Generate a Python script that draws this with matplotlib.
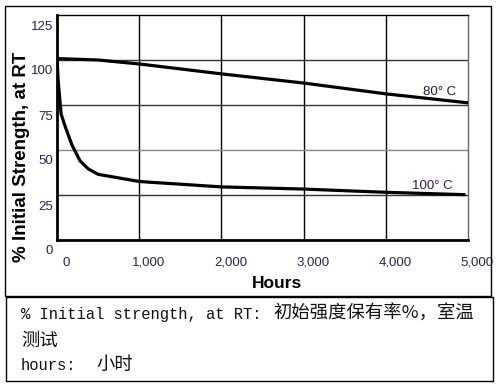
import matplotlib
matplotlib.use("Agg")
import matplotlib.pyplot as plt
import matplotlib.transforms as mtransforms
from matplotlib.patches import Rectangle

# Data
hours_80 = [0, 500, 1000, 2000, 3000, 4000, 5000]
strength_80 = [100.8, 100.0, 97.8, 92.3, 87.2, 81.2, 76.2]
hours_100 = [0, 15, 50, 100, 180, 280, 380, 500, 1000, 2000, 3000, 4000, 4950]
strength_100 = [101, 88, 70, 63, 53, 44, 39.5, 36.5, 32.5, 29.5, 28.3, 26.5, 25.2]
x_ticks = [0, 1000, 2000, 3000, 4000, 5000]
x_labels = ["0", "1,000", "2,000", "3,000", "4,000", "5,000"]
y_ticks = [0, 25, 50, 75, 100, 125]
y_labels = ["0", "25", "50", "75", "100", "125"]
series_labels = ["80° C", "100° C"]
x_title = "Hours"
y_title = "% Initial Strength, at RT"
note_line1_ascii = "% Initial strength, at RT:"
note_line1_cjk = "初始强度保有率%，室温"
note_line2 = "测试"
note_line3_ascii = "hours:"
note_line3_cjk = "小时"

W, H = 502, 389
fig = plt.figure(figsize=(W / 100, H / 100), dpi=100)
fig.patch.set_facecolor("white")

def fx(px):
    return px / W

def fy(py):
    return 1 - py / H

ax = fig.add_axes([fx(57), fy(240), fx(468) - fx(57), fy(15) - fy(240)])
ax.set_xlim(0, 5000)
ax.set_ylim(0, 125)

tick_color = "#23234f"
ax.set_xticks(x_ticks)
ax.set_xticklabels(x_labels, fontsize=9.5, color=tick_color, family="Liberation Sans")
ax.set_yticks(y_ticks)
ax.set_yticklabels(y_labels, fontsize=9.5, color=tick_color, family="Liberation Sans")
ax.tick_params(axis="x", length=0, pad=12)
ax.tick_params(axis="y", length=0, pad=3)

dx = mtransforms.ScaledTranslation(9 / 100, 0, fig.dpi_scale_trans)
for lab in ax.get_xticklabels():
    lab.set_transform(lab.get_transform() + dx)
dy = mtransforms.ScaledTranslation(0, -10 / 100, fig.dpi_scale_trans)
for lab in ax.get_yticklabels():
    lab.set_transform(lab.get_transform() + dy)

# grid
for xv in x_ticks[1:-1]:
    ax.axvline(xv, color="black", lw=1.0, zorder=1)
for yv in y_ticks[1:-1]:
    ax.axhline(yv, color="#333333" if yv != 50 else "#888888", lw=1.0, zorder=1)

for s in ["left", "bottom"]:
    ax.spines[s].set_linewidth(2.0)
ax.spines["top"].set_linewidth(1.0)
ax.spines["right"].set_linewidth(1.0)
ax.spines["right"].set_color("#666666")

ax.plot(hours_80, strength_80, color="black", lw=2.3, solid_joinstyle="round", zorder=3)
ax.plot(hours_100, strength_100, color="black", lw=2.3, solid_joinstyle="round", zorder=3)

ax.text(4660, 82, series_labels[0], fontsize=9.5, ha="center", va="center",
        color="#1a1a3a", family="Liberation Sans", zorder=2)
ax.text(4570, 30, series_labels[1], fontsize=9.5, ha="center", va="center",
        color="#3a1a3a", family="Liberation Sans", zorder=2)

fig.text(fx(277), fy(284), x_title, fontsize=12.5, fontweight="bold",
         ha="center", va="center", family="Liberation Sans")
fig.text(fx(22), fy(157), y_title, fontsize=13.5, fontweight="bold", rotation=90,
         ha="center", va="center", family="Liberation Sans")

# boxes
fig.patches.append(Rectangle((fx(5), fy(296)), fx(491) - fx(5), fy(6) - fy(296),
                             transform=fig.transFigure, fill=False, lw=1.0, ec="black"))
fig.patches.append(Rectangle((fx(6), fy(381)), fx(493) - fx(6), fy(297) - fy(381),
                             transform=fig.transFigure, fill=False, lw=1.0, ec="black"))

mono = "Liberation Mono"
cjk = ["Noto Sans CJK SC", "DejaVu Sans"]
tc = "#111111"
fig.text(fx(21), fy(314), note_line1_ascii, fontsize=11.2, ha="left", va="center",
         family=mono, color=tc)
fig.text(fx(273), fy(314), note_line1_cjk, fontsize=13.2, ha="left", va="center",
         family=cjk, color=tc)
fig.text(fx(21), fy(341), note_line2, fontsize=13.2, ha="left", va="center",
         family=cjk, color=tc)
fig.text(fx(21), fy(365), note_line3_ascii, fontsize=11.2, ha="left", va="center",
         family=mono, color=tc)
fig.text(fx(96), fy(365), note_line3_cjk, fontsize=13.2, ha="left", va="center",
         family=cjk, color=tc)

fig.savefig("out.png", dpi=100)
